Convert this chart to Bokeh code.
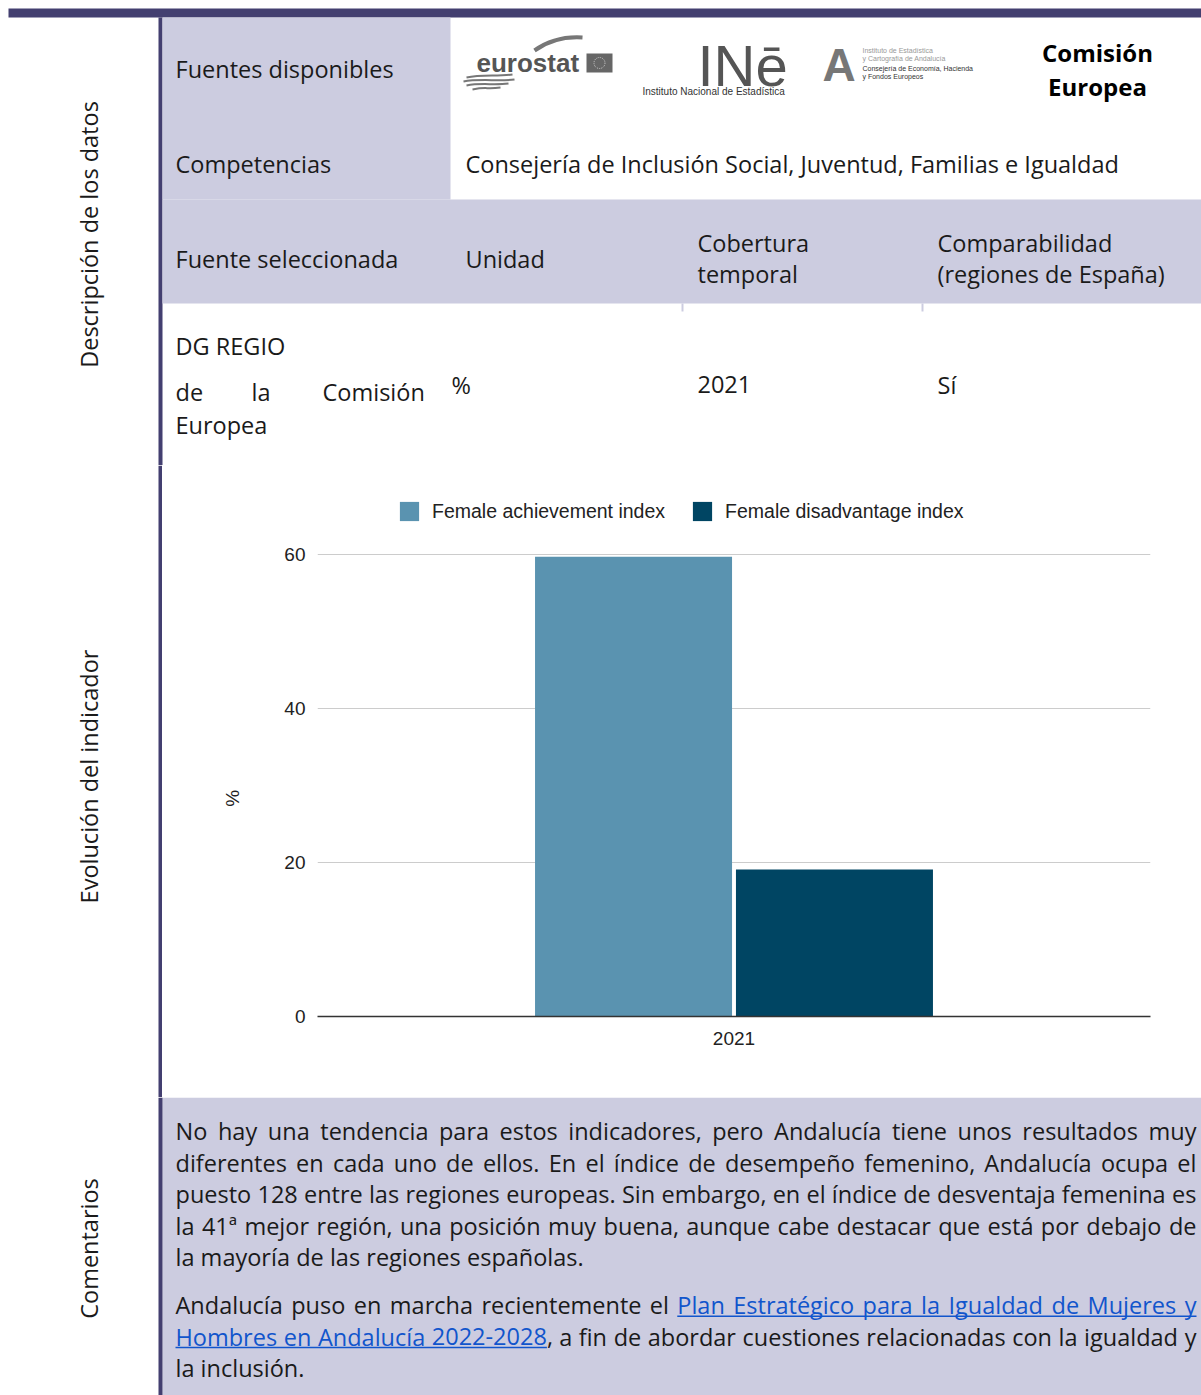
import math
from bokeh.plotting import figure
from bokeh.models import Range1d, FactorRange, FixedTicker, ColumnDataSource, Legend
from bokeh.layouts import column, row
from bokeh.transform import dodge
from bokeh.core.properties import value
from bokeh.embed import file_html
from bokeh.resources import INLINE

# ---------------- data ----------------
years = ["2021"]
achievement = [59.7]
disadvantage = [19.1]
series_names = ["Female achievement index", "Female disadvantage index"]
y_ticks = [0, 20, 40, 60]
y_axis_label = "%"

comment_lines = [
    "No hay una tendencia para estos indicadores, pero Andalucía tiene unos resultados muy",
    "diferentes en cada uno de ellos. En el índice de desempeño femenino, Andalucía ocupa el",
    "puesto 128 entre las regiones europeas. Sin embargo, en el índice de desventaja femenina es",
    "la 41ª mejor región, una posición muy buena, aunque cabe destacar que está por debajo de",
    "la mayoría de las regiones españolas.",
    "Andalucía puso en marcha recientemente el {Plan Estratégico para la Igualdad de Mujeres y}",
    "{Hombres en Andalucía 2022-2028}, a fin de abordar cuestiones relacionadas con la igualdad y",
    "la inclusión.",
]
comment_justified = [True, True, True, True, False, True, True, False]
comment_baselines = [1138.5, 1170, 1201.7, 1233.3, 1264.7, 1312.7, 1344, 1375.7]

# ---------------- style ----------------
NAVY = "#433f70"
LAV = "#cccce0"
LIGHT = "#5a93b0"
DARK = "#004563"
TXT = "#1a1a1a"
LINK = "#1155cc"
FONT = "Open Sans"
CF = "Liberation Sans"
BS = 23.5          # body text size (px)
SHIFT = 0.33       # empirical alphabetic-baseline correction (em)

W = {" ": .26, ",": .245, ".": .266, "-": .322, "ª": .35, "(": .296, ")": .296,
     "A": .633, "B": .648, "C": .631, "D": .729, "E": .556, "F": .516, "G": .728,
     "H": .738, "I": .279, "J": .267, "K": .614, "L": .524, "M": .903, "N": .754,
     "O": .779, "P": .602, "Q": .779, "R": .618, "S": .549, "T": .553, "U": .732,
     "V": .587, "W": .912, "X": .571, "Y": .543, "Z": .556,
     "a": .556, "b": .613, "c": .476, "d": .613, "e": .561, "f": .339, "g": .548,
     "h": .614, "i": .253, "j": .253, "k": .525, "l": .253, "m": .930, "n": .614,
     "o": .604, "p": .613, "q": .613, "r": .408, "s": .477, "t": .353, "u": .614,
     "v": .501, "w": .778, "x": .524, "y": .502, "z": .466,
     "á": .556, "é": .561, "í": .253, "ó": .604, "ú": .614, "ñ": .614}
for d in "0123456789":
    W[d] = .572


def tw(s, size):
    return sum(W.get(ch, .56) for ch in s) * size


def blank(width, height, x0, x1, y0, y1):
    p = figure(width=width, height=height, x_range=Range1d(x0, x1), y_range=Range1d(y1, y0),
               output_backend="svg", toolbar_location=None, x_axis_type=None, y_axis_type=None,
               min_border=0)
    p.min_border_left = p.min_border_right = p.min_border_top = p.min_border_bottom = 0
    p.outline_line_color = None
    p.grid.visible = False
    p.background_fill_color = "white"
    p.border_fill_color = "white"
    p.frame_align = False
    return p


def txt(p, x, y, s, size=BS, font=FONT, color=TXT, align="left", baseline="alphabetic",
        style="normal", angle=0.0):
    yy = y - SHIFT * size if baseline == "alphabetic" else y
    p.text(x=[x], y=[yy], text=[s], text_font=value(font), text_font_size=value("%gpx" % size),
           text_color=color, text_align=align, text_baseline=baseline,
           text_font_style=style, angle=angle)


def rect(p, l, r, t, b, color):
    p.quad(left=[l], right=[r], top=[t], bottom=[b], fill_color=color, line_color=None)


# ---------------- header ----------------
hdr = blank(1201, 465, 0, 1201, 0, 465)
rect(hdr, 8, 1201, 8, 17, NAVY)
rect(hdr, 158, 162, 17, 465, NAVY)
rect(hdr, 162, 450, 17, 199, LAV)
rect(hdr, 162, 1201, 199, 303, LAV)
rect(hdr, 681, 683, 303, 311, LAV)
rect(hdr, 921, 923, 303, 311, LAV)

txt(hdr, 88, 234, "Descripción de los datos", size=23.5, align="center", baseline="middle",
    angle=math.pi / 2)
txt(hdr, 175, 76, "Fuentes disponibles")
txt(hdr, 175, 171, "Competencias")
txt(hdr, 465, 171, "Consejería de Inclusión Social, Juventud, Familias e Igualdad")
txt(hdr, 175, 266, "Fuente seleccionada")
txt(hdr, 465, 266, "Unidad")
txt(hdr, 697, 250, "Cobertura")
txt(hdr, 697, 281, "temporal")
txt(hdr, 937, 250, "Comparabilidad")
txt(hdr, 937, 281, "(regiones de España)")
txt(hdr, 175, 353, "DG REGIO")
txt(hdr, 175, 399, "de")
txt(hdr, 251, 399, "la")
txt(hdr, 322, 399, "Comisión")
txt(hdr, 175, 432, "Europea")
txt(hdr, 451, 392, "%")
txt(hdr, 697, 392, "2021")
txt(hdr, 937, 392, "Sí")

# logos (approximated)
hdr.bezier(x0=[534], y0=[50], x1=[582], y1=[37], cx0=[548], cy0=[40], cx1=[566], cy1=[36],
           line_color="#777777", line_width=4)
for (a, b, c_, d_) in [(466, 77, 512, 74), (463, 81, 514, 79), (466, 85, 508, 83), (472, 89, 500, 87)]:
    hdr.bezier(x0=[a], y0=[b], x1=[c_], y1=[d_], cx0=[a + 15], cy0=[b - 3], cx1=[c_ - 15],
               cy1=[d_ + 2], line_color="#777777", line_width=2)
txt(hdr, 476, 71, "eurostat", size=26, font=CF, color="#555555", style="bold")
rect(hdr, 586, 612, 53, 72, "#666666")
hdr.scatter(x=[599], y=[62.5], size=11, marker="circle", fill_color=None, line_color="#cccccc",
            line_width=1, line_dash="1 1")
txt(hdr, 697, 84, "INē", size=58, font=CF, color="#555555")
txt(hdr, 642, 94, "Instituto Nacional de Estadística", size=10, font=CF, color="#333333")
txt(hdr, 822, 80, "A", size=46, font=CF, color="#777777", style="bold")
txt(hdr, 862, 52, "Instituto de Estadística", size=7, font=CF, color="#999999")
txt(hdr, 862, 60, "y Cartografía de Andalucía", size=7, font=CF, color="#999999")
txt(hdr, 862, 70, "Consejería de Economía, Hacienda", size=7, font=CF, color="#333333")
txt(hdr, 862, 78, "y Fondos Europeos", size=7, font=CF, color="#333333")
txt(hdr, 1097, 60, "Comisión", size=24, color="#000000", style="bold", align="center")
txt(hdr, 1097, 94, "Europea", size=24, color="#000000", style="bold", align="center")

# ---------------- chart row ----------------
side = blank(162, 632, 0, 162, 465, 1097)
rect(side, 158, 162, 465, 1097, NAVY)
txt(side, 88, 776, "Evolución del indicador", size=23.5, align="center", baseline="middle",
    angle=math.pi / 2)

src = ColumnDataSource(dict(year=years, ach=achievement, dis=disadvantage))
ch = figure(width=1039, height=632, x_range=FactorRange(*years), y_range=Range1d(0, 68.31),
            output_backend="svg", toolbar_location=None, min_border_left=155,
            min_border_right=51, min_border_top=25, min_border_bottom=81)
ch.frame_align = False
ch.outline_line_color = None
ch.background_fill_color = "white"
ch.border_fill_color = "white"
r1 = ch.vbar(x=dodge("year", -0.1206, range=ch.x_range), top="ach", width=0.2365, source=src,
             fill_color=LIGHT, line_color=None)
r2 = ch.vbar(x=dodge("year", 0.1206, range=ch.x_range), top="dis", width=0.2365, source=src,
             fill_color=DARK, line_color=None)

ch.xgrid.visible = False
ch.ygrid.ticker = FixedTicker(ticks=y_ticks)
ch.ygrid.grid_line_color = "#cccccc"
ch.ygrid.grid_line_width = 1

ya = ch.yaxis[0]
ya.ticker = FixedTicker(ticks=y_ticks)
ya.axis_line_color = None
ya.major_tick_line_color = None
ya.minor_tick_line_color = None
ya.major_label_standoff = 6
ya.major_label_text_font = CF
ya.major_label_text_font_size = "19px"
ya.major_label_text_color = "#222222"
# non-breaking padding after the "%" moves the title down, as in the original
ya.axis_label = y_axis_label + "\u00a0" * 17
ya.axis_label_text_font = CF
ya.axis_label_text_font_size = "19px"
ya.axis_label_text_font_style = "normal"
ya.axis_label_text_color = "#222222"
ya.axis_label_standoff = 38

xa = ch.xaxis[0]
xa.axis_line_color = "#333333"
xa.axis_line_width = 1.6
xa.major_tick_line_color = None
xa.minor_tick_line_color = None
xa.major_label_standoff = 9
xa.major_label_text_font = CF
xa.major_label_text_font_size = "19px"
xa.major_label_text_color = "#222222"

legend = Legend(items=[(series_names[0], [r1]), (series_names[1], [r2])], location=(80, 493),
                orientation="horizontal", glyph_width=24, glyph_height=24, label_standoff=11,
                spacing=25, padding=0, margin=0, border_line_color=None,
                background_fill_color=None, label_text_font=CF,
                label_text_font_size="19.5px", label_text_color="#222222", label_height=24)
ch.add_layout(legend)

# ---------------- comments ----------------
com = blank(1201, 298, 0, 1201, 1097, 1395)
rect(com, 162, 1201, 1097, 1395, LAV)
rect(com, 158, 162, 1097, 1395, NAVY)
txt(com, 88, 1248, "Comentarios", size=23.5, align="center", baseline="middle",
    angle=math.pi / 2)


def parse_line(line):
    tokens = []
    in_link = False
    for word in line.split(" "):
        pieces = []
        cur = ""
        for chh in word:
            if chh == "{":
                if cur:
                    pieces.append((cur, in_link))
                    cur = ""
                in_link = True
            elif chh == "}":
                if cur:
                    pieces.append((cur, in_link))
                    cur = ""
                in_link = False
            else:
                cur += chh
        if cur:
            pieces.append((cur, in_link))
        tokens.append(pieces)
    return tokens


X0, X1 = 175, 1196
L = dict(x=[], y=[], text=[], color=[], sz=[])
R = dict(x=[], y=[], text=[], color=[], sz=[])
UL = dict(x0=[], x1=[], y=[])
for line, just, yb in zip(comment_lines, comment_justified, comment_baselines):
    toks = parse_line(line)
    size = BS
    widths = [sum(tw(t, size) for t, _ in tk) for tk in toks]
    n = len(toks)
    if just and n > 1:
        min_gap = 0.18 * size
        need = sum(widths) + (n - 1) * min_gap
        if need > X1 - X0:
            size = size * (X1 - X0 - (n - 1) * min_gap) / sum(widths)
            widths = [sum(tw(t, size) for t, _ in tk) for tk in toks]
        gap = (X1 - X0 - sum(widths)) / (n - 1)
    else:
        gap = tw(" ", size)
    ydraw = yb - SHIFT * size
    x = X0
    link_start = None
    link_end = None
    for i, tk in enumerate(toks):
        if just and i == n - 1 and n > 1:
            xr = X1
            for t, lk in reversed(tk):
                R["x"].append(xr); R["y"].append(ydraw); R["text"].append(t)
                R["color"].append(LINK if lk else TXT); R["sz"].append("%.2fpx" % size)
                w = tw(t, size)
                if lk:
                    if link_end is None or xr > link_end:
                        link_end = xr
                    if link_start is None or xr - w < link_start:
                        link_start = xr - w
                xr -= w
        else:
            xp = x
            for t, lk in tk:
                w = tw(t, size)
                L["x"].append(xp); L["y"].append(ydraw); L["text"].append(t)
                L["color"].append(LINK if lk else TXT); L["sz"].append("%.2fpx" % size)
                if lk:
                    if link_start is None:
                        link_start = xp
                    link_end = xp + w
                xp += w
        x += widths[i] + gap
    if link_start is not None:
        UL["x0"].append(link_start); UL["x1"].append(link_end); UL["y"].append(yb + 3)

com.text(x="x", y="y", text="text", text_color="color", text_font_size="sz",
         text_font=value(FONT), text_align="left", text_baseline="alphabetic",
         source=ColumnDataSource(L))
com.text(x="x", y="y", text="text", text_color="color", text_font_size="sz",
         text_font=value(FONT), text_align="right", text_baseline="alphabetic",
         source=ColumnDataSource(R))
com.segment(x0="x0", x1="x1", y0="y", y1="y", line_color=LINK, line_width=1.5,
            source=ColumnDataSource(UL))

layout = column(hdr, row(side, ch, spacing=0), com, spacing=0)
open("out.html", "w").write(file_html(layout, INLINE))
